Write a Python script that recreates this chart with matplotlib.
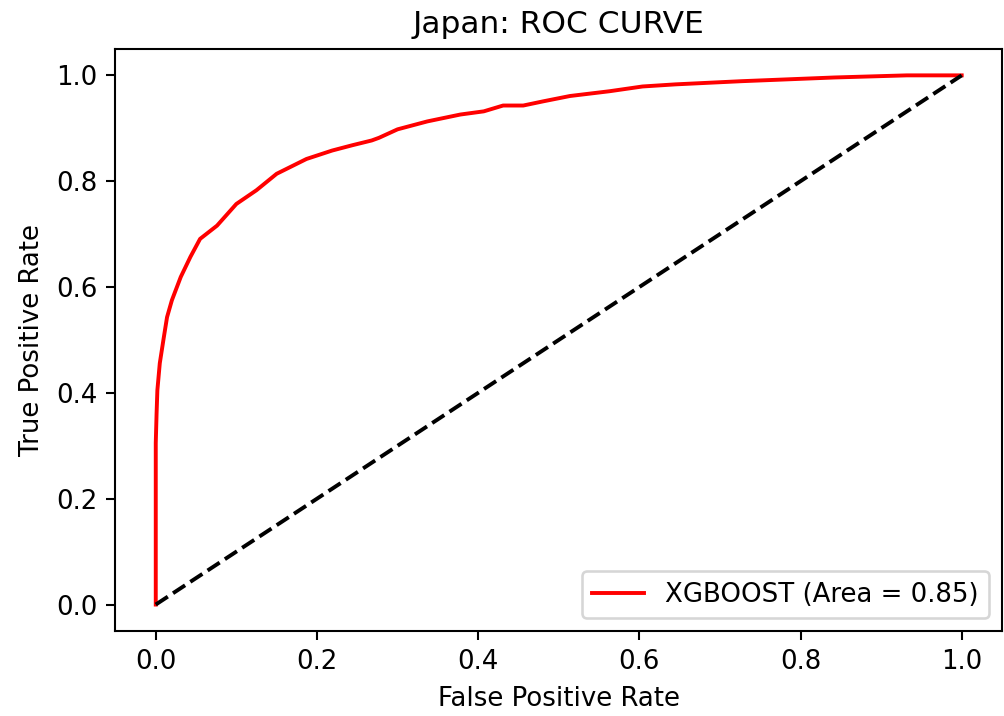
import matplotlib
matplotlib.use('Agg')
from matplotlib import pyplot as plt

# ROC points for the XGBoost model
fpr = [0.0, 0.0, 0.0, 0.001, 0.002, 0.005, 0.010, 0.014, 0.020, 0.031, 0.043,
       0.055, 0.076, 0.100, 0.125, 0.150, 0.187, 0.219, 0.244, 0.268, 0.277,
       0.300, 0.337, 0.378, 0.407, 0.431, 0.456, 0.481, 0.514, 0.563, 0.604,
       0.645, 0.727, 0.842, 0.932, 1.0]
tpr = [0.0, 0.216, 0.305, 0.360, 0.405, 0.456, 0.505, 0.543, 0.575, 0.619, 0.657,
       0.691, 0.716, 0.757, 0.783, 0.814, 0.842, 0.858, 0.868, 0.877, 0.882,
       0.898, 0.913, 0.926, 0.932, 0.943, 0.943, 0.951, 0.961, 0.970, 0.979,
       0.983, 0.989, 0.996, 1.0, 1.0]
auc_score = 0.85
chance = [0, 1]

dpi = 187.2
fig = plt.figure(figsize=(1004 / dpi, 716 / dpi), dpi=dpi)
ax = fig.add_axes([0.115, 0.1187, 0.883, 0.813])

ax.plot(fpr, tpr, color='r', label=f'XGBOOST (Area = {auc_score:.2f})')
ax.plot(chance, chance, 'k--')
ax.set_xlabel('False Positive Rate')
ax.set_ylabel('True Positive Rate')
ax.set_title('Japan: ROC CURVE')
ax.legend(loc='lower right')

fig.savefig('out.png', dpi=dpi)
